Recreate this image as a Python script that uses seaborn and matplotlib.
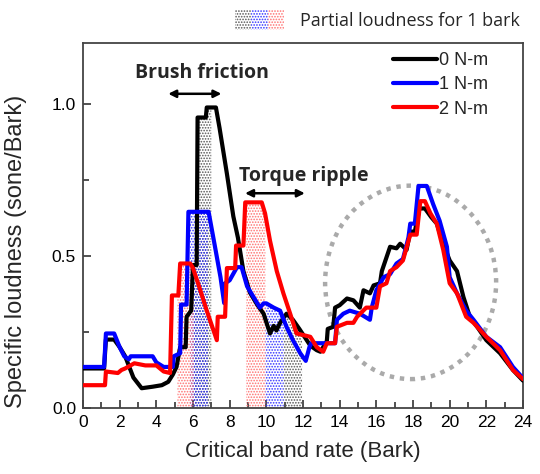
import numpy as np
import pandas as pd
import matplotlib
matplotlib.use("Agg")
import matplotlib.pyplot as plt
from matplotlib.patches import Ellipse, Patch
from matplotlib.legend_handler import HandlerTuple
from matplotlib.ticker import MultipleLocator
import seaborn as sns

# ---- specific loudness spectra (critical band rate in Bark, sone/Bark) ----
bark_0nm = [0, 1.15, 1.25, 1.7, 2.0, 2.3, 2.75, 3.2, 3.8, 4.3, 4.65, 4.9, 5.1, 5.3, 5.6,
            5.65, 5.9, 6.0, 6.2, 6.25, 6.7, 6.75, 7.25, 7.45, 7.85, 8.2, 8.45, 8.75, 9.1,
            9.5, 9.85, 10.2, 10.4, 10.55, 10.75, 11.1, 11.45, 11.8, 12.4, 12.75, 12.95,
            13.3, 13.35, 13.65, 13.75, 14.0, 14.4, 14.75, 15.1, 15.3, 15.65, 15.85, 16.2,
            16.3, 16.75, 17.1, 17.3, 17.65, 17.85, 18.1, 18.35, 18.65, 19.0, 19.3, 19.65,
            20.0, 20.4, 20.75, 21.1, 21.5, 22.0, 22.75, 23.45, 24.0]
loud_0nm = [0.13, 0.13, 0.225, 0.225, 0.2, 0.17, 0.10, 0.065, 0.07, 0.075, 0.086, 0.11,
            0.135, 0.2, 0.2, 0.3, 0.32, 0.47, 0.47, 0.955, 0.955, 0.988, 0.988, 0.92, 0.77,
            0.63, 0.56, 0.45, 0.38, 0.34, 0.31, 0.245, 0.27, 0.255, 0.28, 0.31, 0.29, 0.26,
            0.205, 0.19, 0.185, 0.22, 0.26, 0.267, 0.33, 0.338, 0.36, 0.354, 0.33, 0.387,
            0.377, 0.403, 0.41, 0.45, 0.53, 0.525, 0.54, 0.52, 0.58, 0.58, 0.656, 0.656,
            0.627, 0.606, 0.54, 0.485, 0.45, 0.365, 0.30, 0.267, 0.223, 0.18, 0.125, 0.09]

bark_1nm = [0, 1.15, 1.25, 1.7, 2.0, 2.25, 2.5, 2.6, 3.8, 4.0, 4.4, 4.9, 4.95, 5.3, 5.35,
            5.65, 5.75, 6.85, 7.2, 7.5, 7.7, 7.75, 8.0, 8.4, 8.65, 8.95, 9.3, 9.65, 9.85,
            10.0, 10.4, 10.75, 11.1, 11.45, 11.85, 12.15, 12.35, 12.45, 13.75, 13.85, 14.2,
            14.55, 15.1, 15.65, 15.75, 16.0, 16.4, 16.75, 17.1, 17.45, 17.75, 17.85, 18.1,
            18.3, 18.75, 19.1, 19.45, 19.85, 20.0, 20.4, 20.9, 21.3, 22.0, 22.75, 23.45, 24.0]
loud_1nm = [0.135, 0.135, 0.245, 0.245, 0.2, 0.17, 0.16, 0.17, 0.17, 0.15, 0.135, 0.135,
            0.17, 0.18, 0.34, 0.34, 0.645, 0.645, 0.53, 0.43, 0.345, 0.41, 0.42, 0.463,
            0.463, 0.40, 0.365, 0.33, 0.344, 0.344, 0.33, 0.32, 0.267, 0.223, 0.18, 0.155,
            0.2, 0.213, 0.213, 0.29, 0.31, 0.32, 0.31, 0.29, 0.33, 0.387, 0.43, 0.44, 0.475,
            0.49, 0.56, 0.606, 0.606, 0.73, 0.73, 0.67, 0.616, 0.53, 0.43, 0.377, 0.32, 0.29,
            0.234, 0.2, 0.135, 0.098]

bark_2nm = [0, 1.2, 1.25, 1.9, 2.1, 2.3, 2.8, 3.4, 4.0, 4.4, 4.75, 4.85, 5.2, 5.3, 5.85,
            6.0, 6.4, 6.75, 7.3, 7.35, 7.75, 7.85, 8.3, 8.35, 8.75, 8.85, 9.75, 9.93, 10.2,
            10.57, 10.93, 11.3, 11.65, 12.0, 12.4, 12.75, 13.1, 13.3, 13.75, 13.85, 14.4,
            14.75, 14.95, 15.45, 16.0, 16.2, 16.55, 16.75, 17.1, 17.45, 17.85, 18.2, 18.4,
            18.65, 18.95, 19.3, 19.65, 20.0, 20.4, 20.9, 21.3, 22.0, 22.75, 23.45, 24.0]
loud_2nm = [0.075, 0.075, 0.12, 0.115, 0.125, 0.13, 0.147, 0.14, 0.14, 0.12, 0.115, 0.37,
            0.37, 0.475, 0.475, 0.46, 0.387, 0.32, 0.223, 0.30, 0.30, 0.46, 0.46, 0.534,
            0.534, 0.676, 0.676, 0.64, 0.55, 0.45, 0.377, 0.31, 0.245, 0.24, 0.234, 0.2,
            0.185, 0.213, 0.213, 0.267, 0.28, 0.28, 0.30, 0.33, 0.33, 0.40, 0.41, 0.45,
            0.463, 0.485, 0.57, 0.57, 0.68, 0.68, 0.64, 0.606, 0.52, 0.41, 0.377, 0.30, 0.28,
            0.234, 0.19, 0.125, 0.095]

torque_labels = ["0 N-m", "1 N-m", "2 N-m"]
line_colors = ["#000000", "#0000ff", "#ff0000"]
band_colors = ["#555555", "#3030ff", "#ff7070"]

# 1-Bark partial loudness windows (brush friction / torque ripple) per torque
brush_bands = [(6.05, 7.0), (5.85, 6.8), (5.15, 6.05)]
ripple_bands = [(10.95, 11.95), (9.95, 10.95), (8.9, 9.95)]

spectra = [(bark_0nm, loud_0nm), (bark_1nm, loud_1nm), (bark_2nm, loud_2nm)]
df = pd.concat(
    [pd.DataFrame({"bark": b, "loudness": l, "torque": t})
     for (b, l), t in zip(spectra, torque_labels)],
    ignore_index=True,
)

sns.set_style("white")
plt.rcParams["font.family"] = ["Liberation Sans", "DejaVu Sans"]
plt.rcParams["hatch.linewidth"] = 0.8

fig = plt.figure(figsize=(5.4, 4.74), dpi=100)
ax = fig.add_axes([83 / 540, 1 - 408 / 474, 440 / 540, 365 / 474])

# dotted partial-loudness areas under each curve
for (b, l), col, br, rr in zip(spectra, band_colors, brush_bands, ripple_bands):
    for lo, hi in (br, rr):
        xs = np.linspace(lo, hi, 200)
        ys = np.interp(xs, b, l)
        ax.fill_between(xs, 0, ys, facecolor="none", edgecolor=col,
                        hatch="......", linewidth=0, zorder=1)

sns.lineplot(data=df, x="bark", y="loudness", hue="torque", hue_order=torque_labels,
             palette=line_colors, estimator=None, sort=False, lw=3, ax=ax, zorder=3)

# dotted ellipse around the high-frequency region
ax.add_patch(Ellipse((17.87, 0.413), width=9.33, height=0.636, fill=False,
                     edgecolor="#aaaaaa", lw=3.2, ls=(0, (1, 1.3)), zorder=2))

ax.set_xlim(0, 24)
ax.set_ylim(0, 1.2)
ax.xaxis.set_major_locator(MultipleLocator(2))
ax.xaxis.set_minor_locator(MultipleLocator(1))
ax.yaxis.set_major_locator(MultipleLocator(0.5))
ax.yaxis.set_minor_locator(MultipleLocator(0.25))
ax.yaxis.set_major_formatter(matplotlib.ticker.FormatStrFormatter("%.1f"))
ax.tick_params(which="both", direction="in", bottom=True, left=True, top=False,
               right=False, colors="#222222", labelcolor="black",
               labelsize=12.5, width=1.1)
ax.tick_params(which="major", length=6, pad=5)
ax.tick_params(which="minor", length=4)
for sp in ax.spines.values():
    sp.set_color("#444444")
    sp.set_linewidth(1.3)

ax.set_xlabel("Critical band rate (Bark)", fontsize=16, labelpad=8)
ax.set_ylabel("Specific loudness (sone/Bark)", fontsize=17)
ax.yaxis.set_label_coords(-0.127, 0.43)

# torque legend
handles, labels = ax.get_legend_handles_labels()
for h in handles:
    h.set_linewidth(3)
ax.legend(handles, labels, loc="upper left", bbox_to_anchor=(0.705, 0.975),
          frameon=False, fontsize=13, handlelength=2.4, handletextpad=0.15,
          labelspacing=0.4, borderpad=0, borderaxespad=0)

# legend for the dotted partial-loudness areas
band_handles = tuple(Patch(facecolor="none", edgecolor=c, hatch="......", lw=0)
                     for c in band_colors)
fig.legend([band_handles], ["Partial loudness for 1 bark"],
           handler_map={tuple: HandlerTuple(ndivide=None, pad=0)},
           loc="center right", bbox_to_anchor=(520 / 540, 1 - 20 / 474),
           frameon=False, prop={"family": "Open Sans", "size": 13},
           handlelength=2.7, handleheight=1.3, handletextpad=0.9,
           borderpad=0, borderaxespad=0)

# annotations
bold = {"family": "Open Sans", "weight": "bold", "size": 14}
ax.text(6.5, 1.10, "Brush friction", ha="center", va="center", fontdict=bold)
ax.annotate("", xy=(4.65, 1.033), xytext=(7.55, 1.033),
            arrowprops=dict(arrowstyle="<|-|>", color="black", lw=1.8, mutation_scale=11,
                            shrinkA=0, shrinkB=0))
ax.text(12.03, 0.764, "Torque ripple", ha="center", va="center", fontdict=bold)
ax.annotate("", xy=(8.84, 0.706), xytext=(12.1, 0.706),
            arrowprops=dict(arrowstyle="<|-|>", color="black", lw=1.8, mutation_scale=11,
                            shrinkA=0, shrinkB=0))

fig.savefig("out.png", dpi=100)
